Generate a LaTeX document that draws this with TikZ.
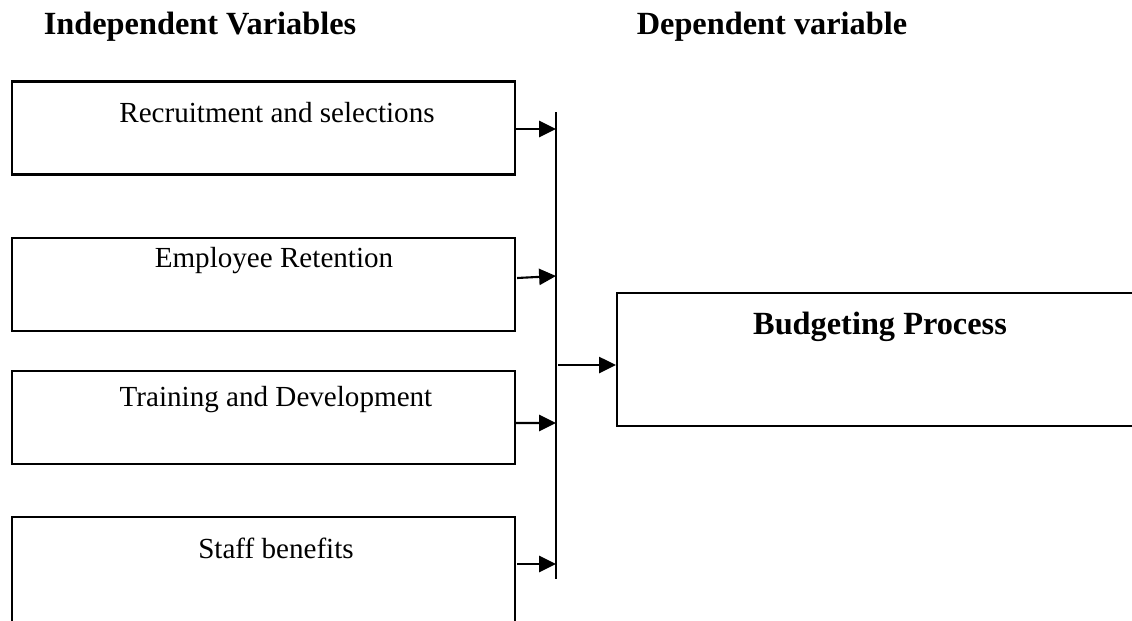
\documentclass[tikz,border=0pt]{standalone}
\usepackage{fontspec}
\setmainfont{Liberation Serif}
\usetikzlibrary{arrows.meta, positioning}

\tikzset{
    varbox/.style={draw, line width=1.5pt, minimum width=12.575cm, minimum height=2.325cm, inner sep=0pt},
    vartext/.style={font=\fontsize{20.7}{24}\selectfont},
    headtext/.style={font=\fontsize{23}{27}\selectfont\bfseries},
    flow/.style={line width=1.5pt, -{Triangle[length=12pt, width=11.5pt]}}
}

\begin{document}
\begin{tikzpicture}[x=0.025cm, y=-0.025cm]
    \useasboundingbox (0,0) rectangle (1132,620);
    \clip (0,0) rectangle (1132,620);

    % headings
    \node[headtext] (indep) at (200,27) {Independent Variables};
    \node[headtext] (dep) at (772,27) {Dependent variable};

    % independent variable boxes
    \node[varbox] (recruit) at (263.5,128) {};
    \node[varbox] (retain) at (263.5,284.5) {};
    \node[varbox] (train) at (263.5,417.5) {};
    \node[varbox, minimum height=3cm] (benefit) at (263.5,577) {};

    \node[vartext] at (277,113) {Recruitment and selections};
    \node[vartext] at (274,261) {Employee Retention};
    \node[vartext] at (276,400) {Training and Development};
    \node[vartext] at (276,548) {Staff benefits};

    % dependent variable box
    \node[varbox, minimum width=13.25cm, minimum height=3.325cm] (budget) at (882,359.5) {};
    \node[headtext] at (880,327) {Budgeting Process};

    % collecting bar
    \coordinate (bartop) at (556,112);
    \coordinate (barbot) at (556,579);
    \draw[line width=1.5pt] (bartop) -- (barbot);

    % arrows
    \draw[flow] (recruit.east) ++(0,1) -- (556,129);
    \draw[flow] (retain.east) ++(1,-6.5) -- (556,276);
    \draw[flow] (train.east) ++(0,5.5) -- (556,423);
    \draw[flow] (benefit.east) ++(1,-13) -- (556,564);
    \draw[flow] (558,365) -- (budget.west |- 0,365);
\end{tikzpicture}
\end{document}
